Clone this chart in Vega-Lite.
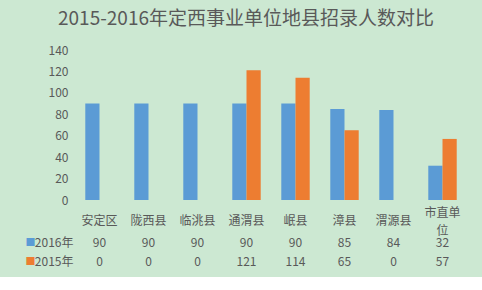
{
  "$schema": "https://vega.github.io/schema/vega-lite/v6.json",
  "background": "#cce8d2",
  "padding": {"left": 25, "top": 10, "right": 17, "bottom": 6},
  "title": {"text": "2015-2016年定西事业单位地县招录人数对比", "fontSize": 19, "font": "Noto Sans CJK SC", "fontWeight": "normal", "color": "#595959", "anchor": "middle", "frame": "bounds", "offset": 15},
  "datasets": {
    "d": [
      {"region": "安定区", "series": "2016年", "value": 90},
      {"region": "陇西县", "series": "2016年", "value": 90},
      {"region": "临洮县", "series": "2016年", "value": 90},
      {"region": "通渭县", "series": "2016年", "value": 90},
      {"region": "岷县", "series": "2016年", "value": 90},
      {"region": "漳县", "series": "2016年", "value": 85},
      {"region": "渭源县", "series": "2016年", "value": 84},
      {"region": "市直单位", "series": "2016年", "value": 32},
      {"region": "安定区", "series": "2015年", "value": 0},
      {"region": "陇西县", "series": "2015年", "value": 0},
      {"region": "临洮县", "series": "2015年", "value": 0},
      {"region": "通渭县", "series": "2015年", "value": 121},
      {"region": "岷县", "series": "2015年", "value": 114},
      {"region": "漳县", "series": "2015年", "value": 65},
      {"region": "渭源县", "series": "2015年", "value": 0},
      {"region": "市直单位", "series": "2015年", "value": 57}
    ]
  },
  "config": {"view": {"stroke": null}, "font": "Noto Sans CJK SC"},
  "bounds": "flush",
  "spacing": 33,
  "vconcat": [
    {
      "width": 392,
      "height": 150,
      "data": {"name": "d"},
      "mark": {"type": "bar"},
      "encoding": {
        "x": {
          "field": "region", "type": "nominal",
          "sort": ["安定区", "陇西县", "临洮县", "通渭县", "岷县", "漳县", "渭源县", "市直单位"],
          "scale": {"paddingInner": 0.42, "paddingOuter": 0.21},
          "axis": {"title": null, "labelAngle": 0, "domain": false, "ticks": false,
            "labelPadding": {"condition": {"test": "datum.value == '市直单位'", "value": 12}, "value": 20},
            "labelBaseline": "middle", "labelFontSize": 12, "labelColor": "#595959", "labelLineHeight": 18,
            "labelExpr": "datum.value == '市直单位' ? ['市直单', '位'] : datum.value"}
        },
        "xOffset": {"field": "series", "type": "nominal", "sort": ["2016年", "2015年"]},
        "y": {
          "field": "value", "type": "quantitative",
          "scale": {"domain": [0, 140]},
          "axis": {"title": null, "values": [0, 20, 40, 60, 80, 100, 120, 140], "domain": false, "ticks": false, "grid": false, "labelPadding": 7, "labelColor": "#595959", "labelFontSize": 12}
        },
        "color": {"field": "series", "type": "nominal", "scale": {"domain": ["2016年", "2015年"], "range": ["#5b9bd5", "#ed7d31"]}, "legend": null}
      }
    },
    {
      "width": 392,
      "height": 38,
      "data": {"name": "d"},
      "encoding": {
        "x": {"field": "region", "type": "nominal", "sort": ["安定区", "陇西县", "临洮县", "通渭县", "岷县", "漳县", "渭源县", "市直单位"], "axis": null}
      },
      "layer": [
        {
          "mark": {"type": "text", "fontSize": 12, "color": "#595959"},
          "encoding": {
            "text": {"field": "value", "type": "quantitative"},
            "y": {"field": "series", "type": "nominal", "sort": ["2016年", "2015年"],
              "axis": {"title": null, "domain": false, "ticks": false, "labelPadding": 2, "labelColor": "#595959", "labelFontSize": 12}}
          }
        },
        {
          "mark": {"type": "text", "opacity": 0},
          "encoding": {
            "text": {"value": ""},
            "y": {"field": "series", "type": "nominal", "sort": ["2016年", "2015年"],
              "axis": {"title": null, "orient": "left", "offset": 40, "domain": false, "ticks": false, "labelPadding": 0, "labelFontSize": 10, "labelExpr": "'■'",
                "labelColor": {"condition": {"test": "datum.value === '2016年'", "value": "#5b9bd5"}, "value": "#ed7d31"}}}
          }
        }
      ],
      "resolve": {"axis": {"y": "independent"}}
    }
  ]
}
